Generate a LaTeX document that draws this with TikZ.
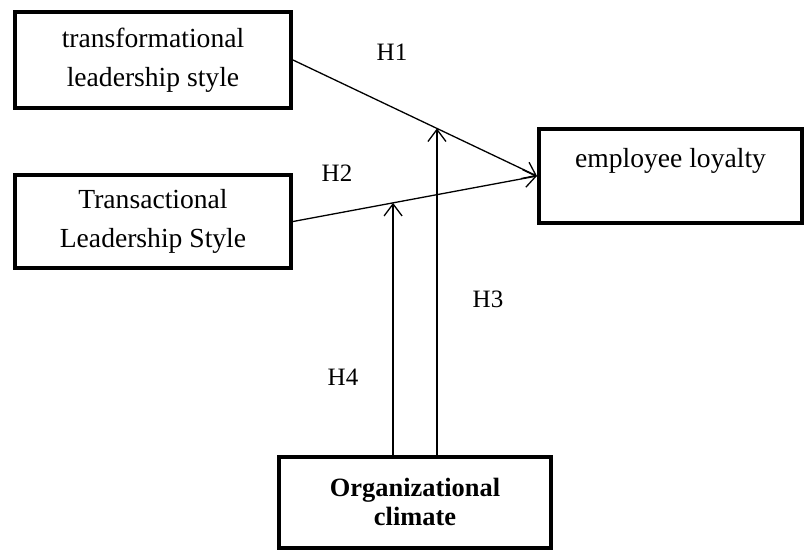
\documentclass[tikz,border=0pt]{standalone}
\usepackage{fontspec}
\setmainfont{Liberation Serif}
\usetikzlibrary{arrows.meta,positioning}

\begin{document}
\begin{tikzpicture}[x=0.5pt, y=-0.5pt,
    box/.style={rectangle, draw, line width=2pt, align=center, font=\fontsize{13.8}{19.5}\selectfont},
    arrow/.style={-{Straight Barb[length=6pt,width=9pt]}, line width=0.65pt},
    hyp/.style={font=\fontsize{12.5}{14}\selectfont}
]
    \useasboundingbox (0,0) rectangle (806,552);

    % Leadership styles
    \node[box, minimum width=138pt, minimum height=48pt] (transf) at (153,60) {transformational\\leadership style};
    \node[box, minimum width=138pt, minimum height=46.5pt] (transa) at (153,221.5) {Transactional\\Leadership Style};

    % Outcome
    \node[box, minimum width=131.5pt, minimum height=47pt, text height=9pt, text depth=18pt] (loyal) at (670.5,176) {employee loyalty};

    % Moderator
    \node[box, font=\bfseries\fontsize{13.2}{14.5}\selectfont, minimum width=136pt, minimum height=45.5pt] (clim) at (415,502) {Organizational\\climate};

    % Arrows
    \draw[arrow] (transf.east) -- coordinate[pos=0.59] (m1) (loyal.west);
    \draw[arrow] (transa.east) -- coordinate[pos=0.41] (m2) (loyal.west);
    \draw[arrow] (m1 |- clim.north) -- (m1);
    \draw[arrow] (m2 |- clim.north) -- (m2);

    % Hypotheses
    \node[hyp] (h1) at (392,52) {H1};
    \node[hyp] (h2) at (337,173) {H2};
    \node[hyp] (h3) at (488,299) {H3};
    \node[hyp] (h4) at (343,377) {H4};

\end{tikzpicture}
\end{document}
